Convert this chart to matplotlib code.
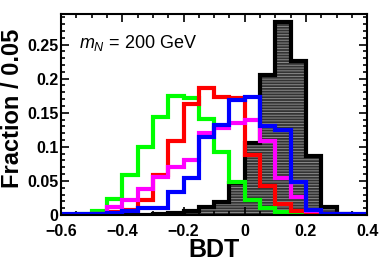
import numpy as np
import matplotlib
matplotlib.use('Agg')
import matplotlib.pyplot as plt
import matplotlib as mpl

mpl.rcParams['font.family'] = ['Liberation Sans', 'DejaVu Sans']
mpl.rcParams['mathtext.fontset'] = 'custom'
mpl.rcParams['mathtext.it'] = 'Liberation Sans:italic'
mpl.rcParams['mathtext.rm'] = 'Liberation Sans'
mpl.rcParams['hatch.color'] = '#8a8a8a'
mpl.rcParams['hatch.linewidth'] = 0.7

# bin edges of BDT, width 0.05
edges = np.round(np.arange(-0.6, 0.4001, 0.05), 3)

# fraction per bin (20 bins)
bkg = [0, 0, 0, 0, 0, 0, 0.001, 0.003, 0.006, 0.011, 0.019, 0.047,
       0.105, 0.205, 0.283, 0.226, 0.086, 0.011, 0.002, 0]
green = [0, 0.002, 0.006, 0.024, 0.059, 0.100, 0.144, 0.174, 0.172, 0.141,
         0.093, 0.048, 0.022, 0.010, 0.004, 0.002, 0.001, 0, 0, 0]
red = [0, 0, 0.002, 0.005, 0.007, 0.022, 0.059, 0.108, 0.163, 0.187,
       0.173, 0.172, 0.088, 0.042, 0.016, 0.006, 0.002, 0, 0, 0]
magenta = [0, 0, 0.002, 0.012, 0.022, 0.038, 0.056, 0.071, 0.081, 0.121,
           0.127, 0.135, 0.139, 0.108, 0.055, 0.026, 0.006, 0.002, 0, 0]
blue = [0.002, 0.002, 0.002, 0.003, 0.006, 0.010, 0.010, 0.034, 0.054, 0.114,
        0.132, 0.168, 0.173, 0.130, 0.124, 0.048, 0.008, 0.002, 0.002, 0.002]

fig = plt.figure(figsize=(3.82, 2.73), dpi=100)
ax = fig.add_axes([0.160, 0.2125, 0.801, 0.7365])

def steps(vals):
    v = np.asarray(vals, dtype=float)
    x = np.repeat(edges, 2)[1:-1]
    y = np.repeat(v, 2)
    return np.concatenate([[edges[0]], x, [edges[-1]]]), np.concatenate([[0], y, [0]])

# background, filled dark with horizontal hatching
xb, yb = steps(bkg)
ax.fill_between(xb, yb, 0, facecolor='#333333', edgecolor='#8a8a8a', hatch='------', lw=0)
ax.plot(xb, yb, color='black', lw=3, solid_joinstyle='miter')

for vals, col in [(green, '#00ff00'), (red, '#ff0000'), (magenta, '#ff00ff'), (blue, '#0000ff')]:
    x, y = steps(vals)
    ax.plot(x, y, color=col, lw=3, solid_joinstyle='miter')

ax.set_xlim(-0.6, 0.4)
ax.set_ylim(0, 0.295)
ax.set_xticks([-0.6, -0.4, -0.2, 0, 0.2, 0.4])
ax.set_xticklabels(['\u22120.6', '\u22120.4', '\u22120.2', '0', '0.2', '0.4'])
ax.set_yticks([0, 0.05, 0.1, 0.15, 0.2, 0.25])
ax.set_yticklabels(['0', '0.05', '0.1', '0.15', '0.2', '0.25'])
ax.xaxis.set_minor_locator(mpl.ticker.MultipleLocator(0.05))
ax.yaxis.set_minor_locator(mpl.ticker.MultipleLocator(0.01))
ax.tick_params(which='both', direction='in', top=True, right=True, width=1.2)
ax.tick_params(which='major', length=6, labelsize=11.5)
ax.tick_params(axis='x', which='major', pad=6.5)
ax.tick_params(axis='y', which='major', pad=2)
ax.tick_params(which='minor', length=3)
for lab in ax.get_xticklabels() + ax.get_yticklabels():
    lab.set_fontweight('bold')
for s in ax.spines.values():
    s.set_linewidth(1.5)

ax.set_xlabel('BDT', fontsize=18, fontweight='bold', labelpad=-1)
ax.set_ylabel('Fraction / 0.05', fontsize=17, fontweight='bold')
ax.yaxis.set_label_coords(-0.12, 0.53)
ax.text(0.06, 0.83, r'$m_N$ = 200 GeV', transform=ax.transAxes, fontsize=13)

fig.savefig('out.png', dpi=100)
